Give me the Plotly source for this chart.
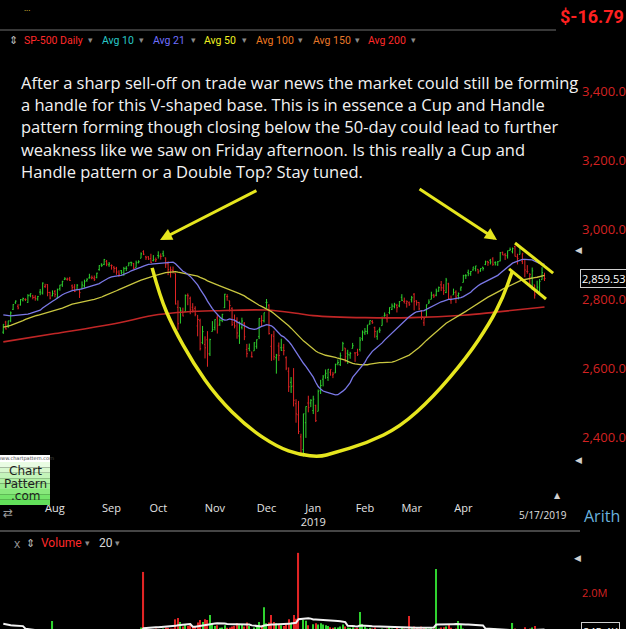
import plotly.graph_objects as go
import pandas as pd

W, H = 626, 629

# ---------------- DATA ----------------
# S&P 500 daily bars, 2018-07-02 .. 2019-05-17 (index 0..220)
opens = [
    2704,2733,2724,2737,2770,2789,2779,2783,2797,2799,2790,2811,2809,2805,2800,2820,2817,2836,2842,2819,2809,
    2822,2803,2830,2841,2856,2857,2858,2838,2835,2827,2827,2831,2838,2853,2861,2860,2860,2862,2885,2901,2900,2909,2899,
    2897,2892,2889,2868,2882,2871,2889,2896,2906,2903,2891,2906,2918,2937,2922,2922,2917,2911,2910,
    2926,2924,2931,2919,2902,2878,2883,2874,2776,2775,2764,2764,2811,2802,2776,2773,2722,2737,2674,2668,2682,2641,2706,
    2718,2745,2727,2738,2775,2807,2795,2773,2731,2738,2693,2718,2730,2654,2657,2633,2650,2663,2691,2736,2737,
    2790,2782,2663,2692,2630,2664,2659,2659,2630,2591,2559,2548,2497,2465,2401,2364,2442,2499,2499,
    2477,2492,2475,2535,2568,2580,2573,2588,2580,2586,2614,2610,2651,2658,2643,2638,2657,2644,2645,2654,2685,
    2702,2706,2728,2735,2717,2692,2712,2723,2751,2743,2761,2770,2779,2781,2780,2805,2793,2787,2789,
    2798,2814,2795,2790,2766,2731,2748,2788,2799,2811,2811,2823,2841,2832,2819,2844,2797,2812,2820,2810,2829,
    2848,2868,2877,2873,2884,2888,2886,2881,2892,2900,2909,2912,2916,2905,2899,2910,2935,2928,2925,2941,2937,
    2952,2922,2929,2909,2914,2880,2860,2863,2841,2820,2820,2856,2858,
]
highs = [
    2727,2737,2737,2764,2785,2796,2785,2800,2804,2802,2814,2816,2812,2811,2809,2829,2848,2844,2843,2821,2825,
    2826,2830,2841,2853,2863,2862,2864,2842,2843,2843,2827,2851,2856,2860,2873,2868,2868,2876,2898,2903,2916,2913,2907,
    2900,2895,2893,2883,2884,2893,2895,2906,2908,2904,2911,2912,2935,2941,2925,2924,2931,2927,2920,
    2938,2932,2940,2920,2909,2894,2894,2874,2796,2775,2775,2813,2816,2807,2788,2779,2754,2743,2722,2692,2707,2685,2736,
    2741,2756,2744,2757,2815,2814,2795,2776,2755,2747,2735,2746,2733,2670,2671,2648,2675,2683,2744,2753,2760,
    2800,2785,2698,2708,2641,2674,2685,2670,2634,2602,2574,2600,2510,2505,2410,2468,2489,2520,2510,
    2520,2494,2538,2566,2580,2596,2597,2596,2589,2613,2625,2645,2676,2658,2653,2647,2673,2645,2656,2690,2709,
    2716,2725,2738,2739,2720,2708,2718,2749,2761,2757,2776,2787,2789,2786,2794,2814,2804,2796,2793,
    2809,2817,2796,2791,2768,2745,2784,2799,2821,2815,2830,2836,2852,2843,2861,2847,2810,2830,2825,2819,2836,
    2870,2872,2885,2881,2893,2896,2886,2889,2893,2911,2910,2916,2921,2909,2910,2936,2937,2933,2940,2949,2949,
    2954,2931,2948,2932,2914,2898,2875,2891,2841,2853,2858,2892,2876,
]
lows = [
    2699,2712,2716,2733,2768,2786,2770,2781,2793,2794,2789,2805,2799,2795,2795,2811,2813,2832,2808,2799,2808,
    2805,2802,2824,2835,2855,2853,2852,2826,2820,2827,2803,2831,2833,2850,2859,2857,2852,2860,2882,2893,2898,2895,2893,
    2885,2876,2870,2864,2871,2867,2881,2896,2895,2886,2891,2903,2918,2927,2913,2913,2904,2909,2907,
    2917,2914,2922,2890,2869,2862,2874,2784,2711,2729,2750,2763,2782,2756,2761,2750,2692,2651,2669,2628,2604,2635,2706,
    2709,2700,2722,2733,2774,2795,2764,2722,2715,2685,2670,2712,2681,2631,2650,2631,2650,2656,2684,2722,2732,
    2774,2697,2621,2623,2584,2621,2650,2637,2594,2531,2528,2489,2442,2409,2347,2344,2398,2472,2487,
    2467,2444,2475,2525,2547,2569,2563,2578,2571,2586,2608,2606,2651,2617,2612,2627,2657,2618,2635,2648,2679,
    2696,2698,2725,2728,2688,2682,2702,2723,2749,2732,2756,2768,2773,2761,2776,2794,2787,2775,2780,
    2790,2767,2781,2768,2740,2722,2747,2786,2799,2803,2808,2821,2823,2812,2817,2800,2786,2812,2788,2799,2823,
    2848,2858,2866,2867,2882,2880,2873,2879,2882,2898,2896,2900,2896,2897,2896,2909,2927,2913,2917,2940,2932,
    2923,2900,2929,2901,2863,2873,2836,2826,2801,2820,2816,2856,2852,
]
closes = [
    2726.71,2713.22,2736.61,2759.82,2784.17,2793.84,2774.02,2798.29,2801.31,2798.43,2809.55,2815.62,2804.49,2801.83,2806.98,2820.40,2846.07,2837.44,2818.82,2802.60,2816.29,
    2813.36,2827.22,2840.35,2850.40,2858.45,2857.70,2853.58,2833.28,2821.93,2839.96,2818.37,2840.69,2850.13,2857.05,2862.96,2861.82,2856.98,2874.69,2896.74,2897.52,2914.04,2901.13,2901.52,
    2896.72,2888.60,2878.05,2871.68,2877.13,2887.89,2888.92,2904.18,2904.98,2888.80,2904.31,2907.95,2930.75,2929.67,2919.37,2915.56,2905.97,2914.00,2913.98,
    2924.59,2923.43,2925.51,2901.61,2885.57,2884.43,2880.34,2785.68,2728.37,2767.13,2750.79,2809.92,2809.21,2768.78,2767.78,2755.88,2740.69,2656.10,2705.57,2658.69,2641.25,2682.63,2711.74,
    2740.37,2723.06,2738.31,2755.45,2813.89,2806.83,2781.01,2726.22,2722.18,2701.58,2730.20,2736.27,2690.73,2641.89,2649.93,2632.56,2673.45,2682.17,2743.79,2737.80,2760.17,
    2790.37,2700.06,2695.95,2633.08,2637.72,2636.78,2651.07,2650.54,2599.95,2545.94,2546.16,2506.96,2467.42,2416.62,2351.10,2467.70,2488.83,2485.74,2506.85,
    2510.03,2447.89,2531.94,2549.69,2574.41,2584.96,2596.64,2596.26,2582.61,2610.30,2616.10,2635.96,2670.71,2632.90,2638.70,2642.33,2664.76,2643.85,2640.00,2681.05,2704.10,
    2706.53,2724.87,2737.70,2731.61,2706.05,2707.88,2709.80,2744.73,2753.03,2745.73,2775.60,2779.76,2784.70,2774.88,2792.67,2796.11,2793.90,2792.38,2784.49,
    2803.69,2792.81,2789.65,2771.45,2748.93,2743.07,2783.30,2791.52,2810.92,2808.48,2822.48,2832.94,2832.57,2824.23,2854.88,2800.71,2798.36,2818.46,2805.37,2815.44,2834.40,
    2867.19,2867.24,2873.40,2879.39,2892.74,2895.77,2878.20,2888.21,2888.32,2907.41,2905.58,2907.06,2900.45,2905.03,2907.97,2933.68,2927.25,2926.17,2939.88,2943.03,2945.83,
    2923.73,2917.52,2945.64,2932.47,2884.05,2879.42,2870.72,2881.40,2811.87,2834.41,2850.96,2876.32,2859.53,
]
# closes before the visible window (Apr 19 - Jun 29, 2018), used for the moving averages
prior_closes = [
    2693,2670,2670,2634,2639,2667,2670,2648,
    2655,2636,2630,2663,2673,2672,2697,2723,2728,2730,2711,2722,2720,2713,2733,2725,2733,2727,2721,2690,2724,2705,
    2735,2747,2749,2772,2771,2779,2782,2787,2776,2782,2779,2774,2763,2767,2750,2755,2718,2723,2699,2716,2718,
]
# volume (millions, as shown by the panel)
volumes = [
    0.65,0.45,0.70,0.75,0.75,0.80,0.82,0.80,0.72,0.72,0.74,0.72,0.76,0.78,0.74,0.78,0.84,0.82,0.83,0.86,1.15,
    0.90,0.86,0.78,0.74,0.78,0.76,0.74,0.80,0.78,0.76,0.88,0.86,0.80,0.72,0.70,0.72,0.70,0.72,0.74,0.76,0.80,0.78,0.86,
    0.84,0.86,0.88,0.86,0.82,0.84,0.86,0.88,0.86,0.84,0.88,0.90,0.95,2.64,0.92,0.86,0.90,0.84,0.92,
    0.88,0.90,0.92,0.95,0.94,0.92,0.92,1.20,1.24,1.12,0.98,1.05,1.00,1.02,0.98,1.00,1.10,1.18,1.12,1.20,1.18,1.33,1.04,
    1.00,1.02,0.94,0.95,1.02,0.94,0.95,0.98,1.00,1.08,1.02,1.04,0.98,1.10,1.00,0.55,0.95,0.98,1.12,1.02,1.57,
    1.08,1.10,1.33,1.12,1.08,1.05,1.02,1.00,1.05,1.20,1.10,1.33,1.22,3.22,0.75,1.18,1.16,1.02,0.85,
    1.05,1.08,1.04,1.08,1.04,1.02,1.00,0.96,0.94,0.96,0.95,0.98,1.04,0.98,0.95,0.94,0.96,0.92,0.94,1.42,1.06,
    0.98,0.92,0.94,0.92,0.95,0.88,0.86,0.92,0.90,0.92,0.96,0.92,0.90,0.94,0.90,0.96,0.92,0.88,1.30,
    0.95,0.98,0.94,0.92,0.98,0.96,0.94,0.92,0.94,0.92,2.73,0.92,0.95,0.96,0.98,1.04,0.94,0.90,0.92,1.15,1.04,
    0.92,0.88,0.88,0.86,0.84,0.82,0.86,0.84,0.82,0.86,0.82,0.84,0.86,0.92,0.80,0.84,0.86,0.84,0.82,0.86,1.09,
    0.92,0.86,0.84,0.88,0.96,0.90,0.92,0.95,1.00,0.86,0.84,0.82,0.88,
]
prior_volumes = [0.90,0.95,0.98,0.85,0.82,0.85,0.95,0.92,2.30,0.95,1.00,0.92,0.95,1.75,1.05,0.92,1.00,0.90,1.70]

# 200-day average (index, value)
ma200_idx = [0, 21, 44, 63, 75, 86, 107, 120, 126, 147, 166, 187, 200, 220]
ma200_val = [2676, 2700, 2727, 2755, 2763, 2766, 2768, 2758, 2752, 2746, 2746, 2753, 2762, 2777]

month_idx = [21, 44, 63, 86, 107, 126, 147, 166, 187]
month_txt = ["Aug", "Sep", "Oct", "Nov", "Dec", "Jan<br>2019", "Feb", "Mar", "Apr"]
price_ticks = [2400, 2600, 2800, 3000, 3200, 3400]

# hand-drawn annotation paths, in (bar index, price)
cup_idx = [60.5, 63.7, 69.0, 77.1, 86.9, 99.1, 111.3, 120.6, 128.7, 134.0, 147.8, 161.3, 174.7, 188.5, 197.8, 203.2, 206.8]
cup_px = [2890, 2806, 2719, 2615, 2516, 2430, 2372, 2349, 2343, 2354, 2383, 2430, 2516, 2632, 2731, 2806, 2878]
handle_up = [(208.0, 2962), (223.5, 2875)]
handle_dn = [(205.6, 2887), (220.6, 2800)]

n = len(closes)
assert len(opens) == n and len(highs) == n and len(lows) == n and len(volumes) == n

# ---------------- DERIVED ----------------
idx = list(range(n))
all_c = pd.Series(prior_closes + closes)
ma21 = all_c.rolling(21).mean().tolist()[-n:]
ma50 = all_c.rolling(50).mean().tolist()[-n:]
vol_ma = pd.Series(prior_volumes + volumes).rolling(20).mean().tolist()[-n:]
prev = [prior_closes[-1]] + closes[:-1]
up = [c >= p for c, p in zip(closes, prev)]

GREEN = "#2fd22f"
RED = "#e02424"
YEL = "#e6e61e"

def P(x, y):
    return x / W, 1 - y / H

XD = 576 / W
X0, X1 = -1.34, 232.8
Y_LO = 2800 + (299 - 500) / 0.3455
Y_HI = 2800 + (299 - 45) / 0.3455
V_LO = 2.0 + (593 - 629) / 32.9
V_HI = 2.0 + (593 - 550) / 32.9

fig = go.Figure()

for flag, col in [(True, GREEN), (False, RED)]:
    sel = [i for i in idx if up[i] == flag]
    fig.add_trace(go.Ohlc(
        x=sel, open=[opens[i] for i in sel], high=[highs[i] for i in sel],
        low=[lows[i] for i in sel], close=[closes[i] for i in sel],
        increasing=dict(line=dict(color=col, width=1)),
        decreasing=dict(line=dict(color=col, width=1)),
        tickwidth=0.4, hoverinfo="skip", showlegend=False, xaxis="x", yaxis="y"))

fig.add_trace(go.Scatter(x=ma200_idx, y=ma200_val, mode="lines", line=dict(color="#c02626", width=1.6, shape="spline"),
                         hoverinfo="skip", showlegend=False))
fig.add_trace(go.Scatter(x=idx, y=ma50, mode="lines", line=dict(color="#c9c640", width=1.3),
                         hoverinfo="skip", showlegend=False))
fig.add_trace(go.Scatter(x=idx, y=ma21, mode="lines", line=dict(color="#7a78e6", width=1.3),
                         hoverinfo="skip", showlegend=False))

fig.add_trace(go.Bar(x=idx, y=volumes, width=0.45, marker=dict(color=[GREEN if u else RED for u in up], line=dict(width=0)),
                     hoverinfo="skip", showlegend=False, xaxis="x2", yaxis="y2"))
fig.add_trace(go.Scatter(x=idx, y=vol_ma, mode="lines", line=dict(color="#f2f2f2", width=2),
                         hoverinfo="skip", showlegend=False, xaxis="x2", yaxis="y2"))

shapes = []
pts = list(zip(cup_idx, cup_px))
path = f"M {pts[0][0]},{pts[0][1]}"
for k in range(1, len(pts) - 1):
    mx = (pts[k][0] + pts[k + 1][0]) / 2
    my = (pts[k][1] + pts[k + 1][1]) / 2
    path += f" Q {pts[k][0]},{pts[k][1]} {mx},{my}"
path += f" L {pts[-1][0]},{pts[-1][1]}"
shapes.append(dict(type="path", xref="x", yref="y", path=path, line=dict(color=YEL, width=3.5), layer="above"))
for h in (handle_up, handle_dn):
    shapes.append(dict(type="line", xref="x", yref="y", x0=h[0][0], y0=h[0][1], x1=h[1][0], y1=h[1][1],
                       line=dict(color=YEL, width=3), layer="above"))

# header separators
x0, y0 = P(0, 30); x1, _ = P(556, 30)
shapes.append(dict(type="line", xref="paper", yref="paper", x0=x0, y0=y0, x1=x1, y1=y0, line=dict(color="#707070", width=1)))
x0, y0 = P(0, 531); x1, _ = P(580, 531)
shapes.append(dict(type="line", xref="paper", yref="paper", x0=x0, y0=y0, x1=x1, y1=y0, line=dict(color="#8a8a8a", width=1)))

# logo box with a vertical gradient
grad = ["#e9fce3", "#d8f8cf", "#c4f4ba", "#b0f0a4", "#9cec90", "#88e87c", "#74e46a", "#62e05a"]
top, bot = 462, 505
step = (bot - top) / len(grad)
for k, g in enumerate(grad):
    a = P(0, top + k * step); b = P(50, top + (k + 1) * step)
    shapes.append(dict(type="rect", xref="paper", yref="paper", x0=a[0], y0=b[1], x1=b[0], y1=a[1],
                       fillcolor=g, line=dict(width=0), layer="above"))
a = P(0, 455); b = P(50, 462)
shapes.append(dict(type="rect", xref="paper", yref="paper", x0=a[0], y0=b[1], x1=b[0], y1=a[1],
                   fillcolor="#ffffff", line=dict(width=0), layer="above"))

ann = []
def text(x, y, s, color, size, anchor="left", family="Open Sans", **kw):
    px_, py_ = P(x, y)
    ann.append(dict(x=px_, y=py_, xref="paper", yref="paper", text=s, showarrow=False,
                    xanchor=anchor, yanchor="middle", font=dict(color=color, size=size, family=family), **kw))

# top header
text(22, 7, "...", "#e0d040", 8)
text(626, 17, "<b>$-16.79</b>", "#ff2020", 18, anchor="right", family="Roboto")
# legend row
text(13, 40, "⇕", "#bdbdbd", 11, anchor="center", family="DejaVu Sans")
legend = [(22, "SP-500 Daily", "#ff2a2a"), (100, "Avg 10", "#28c8c8"), (151, "Avg 21", "#6f6fff"),
          (202, "Avg 50", "#f0f020"), (254, "Avg 100", "#f07a20"), (311, "Avg 150", "#e8782a"), (366, "Avg 200", "#ff2a2a")]
for (x, s, c), nx in zip(legend, [90, 141, 193, 244, 300, 357, 413]):
    text(x, 40, s, c, 10.5, family="Roboto")
    text(nx, 40, "▾", "#8a8a8a", 9, anchor="center", family="DejaVu Sans")

# paragraph
para = [
    "After a sharp sell-off on trade war news the market could still be forming",
    "a handle for this V-shaped base. This is in essence a Cup and Handle",
    "pattern forming though closing below the 50-day could lead to further",
    "weakness like we saw on Friday afternoon. Is this really a Cup and",
    "Handle pattern or a Double Top? Stay tuned.",
]
for k, line in enumerate(para):
    text(19, 82 + k * 22.4, line, "#f2f2f2", 16.5)

# arrows (tips on the two peaks)
ann.append(dict(x=63.7, y=2971, ax=103.5, ay=3116, xref="x", yref="y", axref="x", ayref="y", text="",
                showarrow=True, arrowhead=2, arrowsize=0.8, arrowwidth=3, arrowcolor=YEL))
ann.append(dict(x=200.7, y=2971, ax=168.6, ay=3121, xref="x", yref="y", axref="x", ayref="y", text="",
                showarrow=True, arrowhead=2, arrowsize=0.8, arrowwidth=3, arrowcolor=YEL))

# last price box
ann.append(dict(x=580 / W, y=closes[-1], xref="paper", yref="y", text="2,859.53", showarrow=False, xanchor="left",
                yanchor="middle", font=dict(color="#ffffff", size=11, family="Open Sans"),
                bgcolor="#000000", bordercolor="#d0d0d0", borderwidth=1, borderpad=1))
# volume box
ann.append(dict(x=581 / W, y=P(0, 632)[1], xref="paper", yref="paper", text="845.4K", showarrow=False, xanchor="left",
                yanchor="middle", font=dict(color="#ffffff", size=11, family="Open Sans"),
                bgcolor="#000000", bordercolor="#d0d0d0", borderwidth=1, borderpad=1))

# logo text
text(25, 458.5, "www.chartpattern.com", "#444444", 5, anchor="center", family="DejaVu Sans")
text(25, 471, "Chart", "#1e1e1e", 12, anchor="center", family="DejaVu Sans")
text(25, 483.5, "Pattern", "#1e1e1e", 12, anchor="center", family="DejaVu Sans")
text(25, 496, ".com", "#1e1e1e", 12, anchor="center", family="DejaVu Sans")
text(8, 513, "⇄", "#9a9a9a", 12, anchor="center", family="DejaVu Sans")

# right side markers
for (x, y) in [(578, 250), (578, 460), (577, 558)]:
    text(x, y, "◀", "#d0d0d0", 9, anchor="center", family="DejaVu Sans")
text(557, 495, "▲", "#d0d0d0", 8, anchor="center", family="DejaVu Sans")
text(543, 515, "5/17/2019", "#e0e0e0", 10, anchor="center")
text(582, 516, "Arith", "#6ab2de", 16, family="Open Sans")

# volume header
text(12, 543, "x", "#9a9a9a", 12)
text(30, 543, "⇕", "#bdbdbd", 11, anchor="center", family="DejaVu Sans")
text(39, 543, "Volume", "#ff2a2a", 12, family="Roboto")
text(87, 543, "▾", "#8a8a8a", 9, anchor="center", family="DejaVu Sans")
text(97, 543, "20", "#d8d8d8", 12, family="Roboto")
text(117, 543, "▾", "#8a8a8a", 9, anchor="center", family="DejaVu Sans")

ax_common = dict(showgrid=False, zeroline=False, showline=False, ticks="", automargin=False)
fig.update_layout(
    width=W, height=H, margin=dict(l=0, r=0, t=0, b=0, autoexpand=False),
    paper_bgcolor="#000000", plot_bgcolor="#000000", showlegend=False,
    xaxis=dict(domain=[0, XD], range=[X0, X1], anchor="y", tickvals=month_idx, ticktext=month_txt,
               tickfont=dict(color="#e4e4e4", size=11, family="Open Sans"), rangeslider=dict(visible=False),
               **ax_common),
    yaxis=dict(domain=[P(0, 500)[1], P(0, 45)[1]], range=[Y_LO, Y_HI], anchor="x", side="right",
               tickvals=price_ticks, tickformat=",.2f", ticklabelstandoff=5,
               tickfont=dict(color="#d42222", size=13, family="Open Sans"), **ax_common),
    xaxis2=dict(domain=[0, XD], range=[X0, X1], anchor="y2", showticklabels=False,
                rangeslider=dict(visible=False), **ax_common),
    yaxis2=dict(domain=[0, P(0, 550)[1]], range=[V_LO, V_HI], anchor="x2", side="right",
                tickvals=[2.0], ticktext=["2.0M"], ticklabelstandoff=5,
                tickfont=dict(color="#d42222", size=11, family="Open Sans"), **ax_common),
    shapes=shapes, annotations=ann,
)

fig.write_html("out.html", config={"displayModeBar": False},
               post_script="document.body.style.margin='0';document.body.style.overflow='hidden';")
